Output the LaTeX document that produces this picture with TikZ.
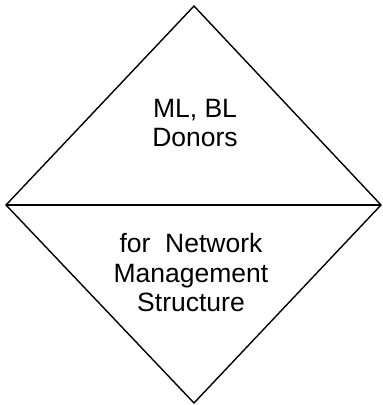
\documentclass[tikz,border=0pt]{standalone}
\usepackage{fontspec}
\setmainfont{Liberation Sans}

\begin{document}
\begin{tikzpicture}[x=1pt, y=-1pt, line width=1.4pt]
				\tikzstyle{label text}=[align=center, inner sep=0pt, text=black, font=\fontsize{26.5}{29.5}\selectfont]
				
				\useasboundingbox (0, 0) rectangle (383, 405);
				
				\coordinate (top) at (194, 6);
				\coordinate (left) at (6, 205);
				\coordinate (right) at (381, 205);
				\coordinate (bottom) at (194, 403);
				
				\node[label text] at (195, 123) (donors) {ML, BL\\Donors};
				\node[label text] at (191, 273) (network) {for~ Network\\Management\\Structure};
				
				\draw[line join=miter] (top) -- (right) -- (bottom) -- (left) -- cycle;
				\draw (left) -- (right);
		  \end{tikzpicture}
\end{document}
